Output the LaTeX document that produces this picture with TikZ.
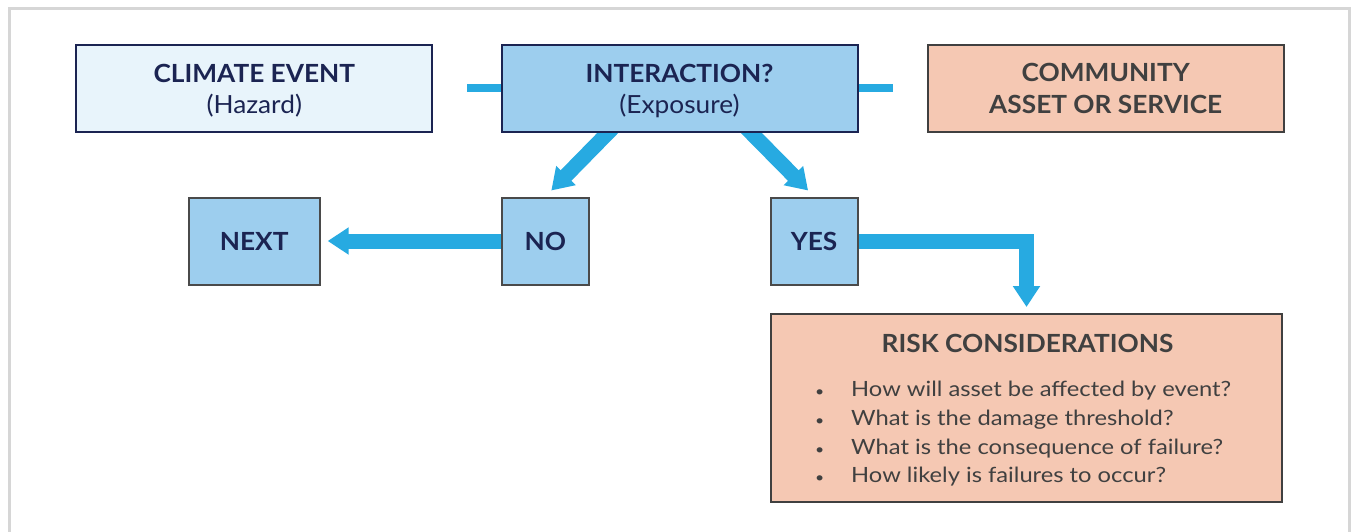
\documentclass[tikz,border=0pt]{standalone}
\usepackage{fontspec}
\setmainfont{Lato}[FakeStretch=1.05]
\newfontfamily\itemfont{Lato}[FakeStretch=1.13]
\usetikzlibrary{arrows.meta,calc}
\definecolor{navy}{HTML}{1B2452}
\definecolor{charcoal}{HTML}{404040}
\definecolor{paleblue}{HTML}{E8F4FB}
\definecolor{midblue}{HTML}{9DCEEE}
\definecolor{salmon}{HTML}{F5C8B3}
\definecolor{flowcyan}{HTML}{27AAE1}
\definecolor{framegrey}{HTML}{D6D6D6}
\pgfdeclarelayer{bg}
\pgfsetlayers{bg,main}
\tikzset{
  box/.style={rectangle, line width=2pt, inner sep=0pt,
    font=\fontsize{25}{31}\selectfont},
  bigbox/.style={box, minimum width=356pt, minimum height=87pt},
  smallbox/.style={box, minimum height=87pt, fill=midblue, draw=charcoal!95!white, text=navy},
  boxline/.style={anchor=base, inner sep=0pt, font=\fontsize{25}{31}\selectfont},
  stub/.style={draw=flowcyan, line width=7.5pt},
  flow/.style={draw=flowcyan, line width=15pt,
    -{Triangle[width=26pt,length=21pt]}},
  itemtext/.style={anchor=base west, text=charcoal, font=\fontsize{21}{26}\itemfont, inner sep=0pt}
}
\newcommand{\itembullet}{\llap{{\fontsize{14}{14}\selectfont\textbullet}\hspace{27pt}}}
\begin{document}
\begin{tikzpicture}[x=1pt,y=-1pt]
  \useasboundingbox (0,0) rectangle (1351,531);
  \clip (0,0) rectangle (1351,531);
  % outer frame
  \draw[framegrey, line width=3pt] (9.5,8) rectangle (1349.5,560);

  % top row
  \node[bigbox, fill=paleblue, draw=navy] (hazard) at (254.3,88) {};
  \node[boxline, text=navy, font=\fontsize{25}{31}\selectfont\bfseries] (hazardA) at ([yshift=5.7pt]hazard.center) {CLIMATE EVENT};
  \node[boxline, text=navy] (hazardB) at ([yshift=-25pt]hazard.center) {(Hazard)};

  \node[bigbox, fill=midblue, draw=navy] (exposure) at (679.5,88) {};
  \node[boxline, text=navy, font=\fontsize{25}{31}\selectfont\bfseries] (exposureA) at ([yshift=5.7pt]exposure.center) {INTERACTION?};
  \node[boxline, text=navy] (exposureB) at ([yshift=-25pt]exposure.center) {(Exposure)};

  \node[bigbox, fill=salmon, draw=charcoal] (asset) at (1105.7,88) {};
  \node[boxline, text=charcoal, font=\fontsize{25}{31}\selectfont\bfseries] (assetA) at ([yshift=6.3pt]asset.center) {COMMUNITY};
  \node[boxline, text=charcoal, font=\fontsize{25}{31}\selectfont\bfseries] (assetB) at ([yshift=-25.3pt]asset.center) {ASSET OR SERVICE};

  % decision row
  \node[smallbox, minimum width=131pt] (next) at (254.2,241) {\textbf{NEXT}};
  \node[smallbox, minimum width=87pt] (no) at (545.3,241) {\textbf{NO}};
  \node[smallbox, minimum width=87pt] (yes) at (814.1,241) {\textbf{YES}};

  % risk box
  \node[rectangle, line width=2pt, fill=salmon, draw=charcoal, minimum width=511pt,
    minimum height=188pt, inner sep=0pt] (risk) at (1026.5,408) {};
  \node[anchor=base, text=charcoal, inner sep=0pt, font=\fontsize{25}{31}\selectfont\bfseries]
    (risktitle) at (1027.5,352.5) {RISK CONSIDERATIONS};
  \node[itemtext] (q1) at (851,396.7) {\itembullet How will asset be affected by event?};
  \node[itemtext] (q2) at (851,425.3) {\itembullet What is the damage threshold?};
  \node[itemtext] (q3) at (851,454) {\itembullet What is the consequence of failure?};
  \node[itemtext] (q4) at (851,482.7) {\itembullet How likely is failures to occur?};

  % connectors, drawn beneath the boxes
  \begin{pgfonlayer}{bg}
    \draw[stub] ([xshift=34pt]hazard.east) -- (exposure.west);
    \draw[stub] (exposure.east) -- ([xshift=-34pt]asset.west);
    \draw[flow] ([xshift=-61.5pt,yshift=10pt]exposure.south) -- ([xshift=6pt,yshift=6pt]no.north);
    \draw[flow] ([xshift=61.5pt,yshift=10pt]exposure.south) -- ([xshift=-6pt,yshift=6pt]yes.north);
    \draw[flow] (no.west) -- ([xshift=7pt]next.east);
    \draw[flow, line join=miter] (yes.east) -| ([yshift=6pt]risk.north);
  \end{pgfonlayer}
\end{tikzpicture}
\end{document}
